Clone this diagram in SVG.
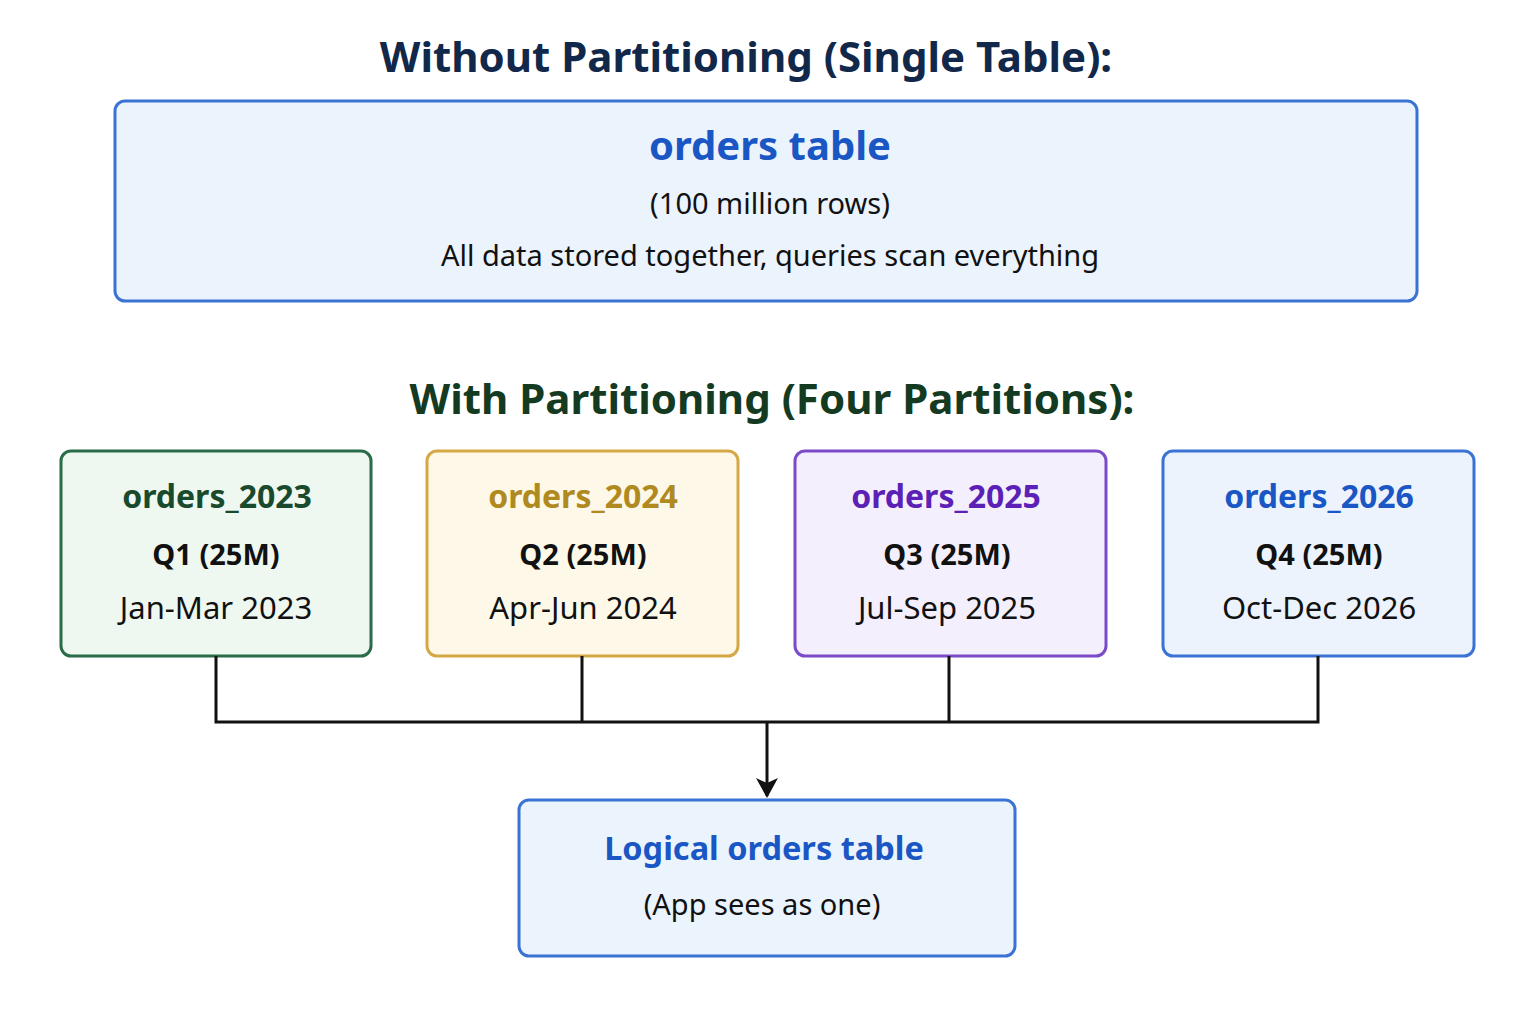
<svg xmlns="http://www.w3.org/2000/svg" width="1536" height="1024" viewBox="0 0 1536 1024">
<defs>
<style>
text{font-family:"Noto Sans","Liberation Sans",sans-serif;text-anchor:middle}
.h{font-size:42px;font-weight:bold}
.t{font-weight:bold}
.r{font-size:29px;fill:#111}
.d{font-size:31px;fill:#111}
.q{font-size:29px;font-weight:bold;fill:#111}
.c{fill:none;stroke:#111;stroke-width:3}
</style>
<marker id="ah" viewBox="0 0 20 26" refX="18" refY="13" markerWidth="20" markerHeight="26" markerUnits="userSpaceOnUse" orient="auto">
<path d="M0,2 L20,13 L0,24 L5,13 Z" fill="#111"/>
</marker>
</defs>
<rect width="1536" height="1024" fill="#fff"/>
<text class="h" x="746" y="72" fill="#11284a">Without Partitioning (Single Table):</text>
<g id="orders-table">
<rect x="115" y="101" width="1302" height="200" rx="10" fill="#ebf3fd" stroke="#3b73d4" stroke-width="3"/>
<text class="t" x="770" y="160" font-size="40" fill="#1a56c4">orders table</text>
<text class="r" x="770" y="214">(100 million rows)</text>
<text class="r" x="770" y="266">All data stored together, queries scan everything</text>
</g>
<text class="h" x="772" y="414" fill="#143a22">With Partitioning (Four Partitions):</text>
<g id="orders_2023">
<rect x="61" y="451" width="310" height="205" rx="10" fill="#eef8f0" stroke="#2a6b48" stroke-width="3"/>
<text class="t" x="217" y="508" font-size="32" fill="#1a4a2e">orders_2023</text>
<text class="q" x="216" y="565">Q1 (25M)</text>
<text class="d" x="216" y="619">Jan-Mar 2023</text>
</g>
<g id="orders_2024">
<rect x="427" y="451" width="311" height="205" rx="10" fill="#fdf8e8" stroke="#d4a845" stroke-width="3"/>
<text class="t" x="583" y="508" font-size="32" fill="#b08a1e">orders_2024</text>
<text class="q" x="583" y="565">Q2 (25M)</text>
<text class="d" x="583" y="619">Apr-Jun 2024</text>
</g>
<g id="orders_2025">
<rect x="795" y="451" width="311" height="205" rx="10" fill="#f4effd" stroke="#7a4ac8" stroke-width="3"/>
<text class="t" x="946" y="508" font-size="32" fill="#5b21b6">orders_2025</text>
<text class="q" x="947" y="565">Q3 (25M)</text>
<text class="d" x="947" y="619">Jul-Sep 2025</text>
</g>
<g id="orders_2026">
<rect x="1163" y="451" width="311" height="205" rx="10" fill="#ecf3fd" stroke="#3b73d4" stroke-width="3"/>
<text class="t" x="1319" y="508" font-size="32" fill="#1a56c4">orders_2026</text>
<text class="q" x="1319" y="565">Q4 (25M)</text>
<text class="d" x="1319" y="619">Oct-Dec 2026</text>
</g>
<g id="connectors">
<path class="c" d="M216,656 V722 M582,656 V722 M949,656 V722 M1318,656 V722 M214.5,722 H1319.5"/>
<path class="c" d="M767,722 V796" marker-end="url(#ah)"/>
</g>
<g id="logical-orders-table">
<rect x="519" y="800" width="496" height="156" rx="10" fill="#ebf3fd" stroke="#3b73d4" stroke-width="3"/>
<text class="t" x="764" y="860" font-size="32.5" fill="#1a56c4">Logical orders table</text>
<text class="r" x="762" y="915">(App sees as one)</text>
</g>
</svg>
